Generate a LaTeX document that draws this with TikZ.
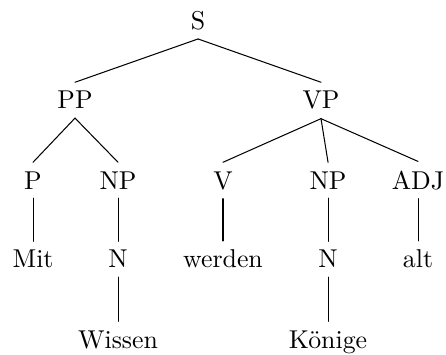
\documentclass[tikz,border=0pt]{standalone}
\usepackage{tikz}

\begin{document}
\begin{tikzpicture}[cat/.style={anchor=base},line cap=round]
\useasboundingbox (0,0) rectangle (6.076,-4.823);
% phrase levels
\node[cat] (S) at (2.698,-0.399) {S};
\node[cat] (PP) at (1.022,-1.485) {PP};
\node[cat] (VP) at (4.373,-1.485) {VP};
\node[cat] (P) at (0.450,-2.575) {P};
\node[cat] (NP1) at (1.608,-2.575) {NP};
\node[cat] (V) at (3.038,-2.575) {V};
\node[cat] (NP2) at (4.469,-2.575) {NP};
\node[cat] (ADJ) at (5.695,-2.575) {ADJ};
% words
\node[cat] (Mit) at (0.450,-3.651) {Mit};
\node[cat] (N1) at (1.608,-3.651) {N};
\node[cat] (werden) at (3.038,-3.651) {werden};
\node[cat] (N2) at (4.469,-3.651) {N};
\node[cat] (alt) at (5.695,-3.651) {alt};
\node[cat] (Wissen) at (1.608,-4.741) {Wissen};
\node[cat] (Koenige) at (4.469,-4.741) {Könige};
% branches
\draw (S.south) -- (PP.north);
\draw (S.south) -- (VP.north);
\draw (PP.south) -- (P.north);
\draw (PP.south) -- (NP1.north);
\draw (VP.south) -- (V.north);
\draw (VP.south) -- (NP2.north);
\draw (VP.south) -- (ADJ.north);
\draw (P.south) -- (Mit.north);
\draw (NP1.south) -- (N1.north);
\draw (V.south) -- (werden.north);
\draw (NP2.south) -- (N2.north);
\draw (ADJ.south) -- (alt.north);
\draw (N1.south) -- (Wissen.north);
\draw (N2.south) -- (Koenige.north);
\end{tikzpicture}
\end{document}
